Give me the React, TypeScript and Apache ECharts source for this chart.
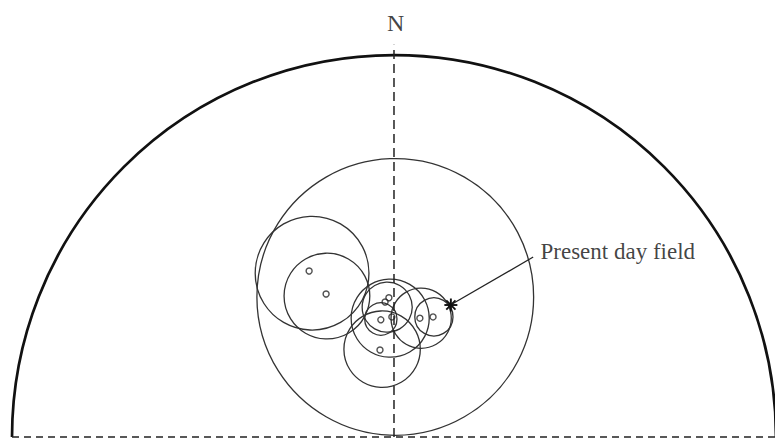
import React, { useEffect, useRef } from "react";
import * as echarts from "echarts";

// Upper-hemisphere equal-area net; coordinates are degrees from the centre,
// so the primitive circle has a radius of 90.
const primitiveRadius = 90;

// Cones of confidence: [east, north, radius]
const coneCentres: [number, number][] = [
  [0.3, 33.0],
  [-19.3, 38.6],
  [-15.8, 33.2],
  [-0.9, 28.0],
  [-1.6, 30.6],
  [-3.1, 27.8],
  [-2.8, 20.7],
  [6.4, 28.0],
  [9.4, 28.3],
];
const coneRadii: number[] = [32.6, 13.4, 10.1, 9.2, 5.9, 3.8, 9.0, 7.1, 4.5];

// Site mean directions: [east, north]
const meanDirections: [number, number][] = [
  [-20.0, 39.1],
  [-16.0, 33.7],
  [-2.1, 31.8],
  [-1.2, 32.8],
  [-3.1, 27.6],
  [-0.5, 28.3],
  [6.1, 28.0],
  [9.2, 28.3],
  [-3.3, 20.5],
];

const presentDayField: [number, number] = [13.4, 31.1];
const fieldLabelAnchor: [number, number] = [32.8, 42.4];
const fieldLabelText = "Present day field";
const northLabel = "N";
const northTickTop = 92.4;

const SERIF = "'Liberation Serif', 'DejaVu Serif', serif";

export default function App() {
  const ref = useRef<HTMLDivElement>(null);

  useEffect(() => {
    if (!ref.current) return;
    const chart = echarts.init(ref.current, undefined, { renderer: "svg" });

    const cones = coneCentres.map((c, i) => [c[0], c[1], coneRadii[i]]);

    chart.setOption({
      animation: false,
      backgroundColor: "#ffffff",
      grid: { left: 0, right: 0, top: 0, bottom: 0, containLabel: false },
      xAxis: {
        type: "value",
        min: -92.83,
        max: 89.77,
        show: false,
      },
      yAxis: {
        type: "value",
        min: -0.94,
        max: 102.96,
        show: false,
      },
      series: [
        {
          // primitive circle (upper half)
          type: "custom",
          clip: false,
          silent: true,
          data: [[0, 0, primitiveRadius]],
          renderItem: (params: any, api: any) => {
            const c = api.coord([api.value(0), api.value(1)]);
            const r = api.size([api.value(2), 0])[0];
            return {
              type: "arc",
              shape: {
                cx: c[0],
                cy: c[1],
                r,
                startAngle: Math.PI,
                endAngle: 2 * Math.PI,
                clockwise: true,
              },
              style: { fill: "none", stroke: "#111111", lineWidth: 2.7 },
            };
          },
        },
        {
          // horizontal diameter
          type: "line",
          silent: true,
          symbol: "none",
          data: [
            [-primitiveRadius, 0],
            [89.77, 0],
          ],
          lineStyle: { color: "#222222", width: 1.7, type: [7, 5] },
        },
        {
          // north-south diameter
          type: "line",
          silent: true,
          symbol: "none",
          data: [
            [0, 0],
            [0, northTickTop],
          ],
          lineStyle: { color: "#222222", width: 1.5, type: [9, 5] },
        },
        {
          type: "custom",
          clip: false,
          silent: true,
          data: cones,
          renderItem: (params: any, api: any) => {
            const c = api.coord([api.value(0), api.value(1)]);
            const r = api.size([api.value(2), 0])[0];
            return {
              type: "circle",
              shape: { cx: c[0], cy: c[1], r },
              style: { fill: "none", stroke: "#333333", lineWidth: 1.3 },
            };
          },
        },
        {
          type: "scatter",
          silent: true,
          data: meanDirections,
          symbol: "circle",
          symbolSize: 6,
          itemStyle: {
            color: "rgba(255,255,255,0)",
            borderColor: "#222222",
            borderWidth: 1.4,
          },
        },
        {
          // pointer to the present day field
          type: "line",
          silent: true,
          symbol: "none",
          data: [
            [presentDayField[0] + 0.4, presentDayField[1] + 0.3],
            fieldLabelAnchor,
          ],
          lineStyle: { color: "#222222", width: 1.3 },
        },
        {
          type: "custom",
          clip: false,
          silent: true,
          data: [presentDayField],
          renderItem: (params: any, api: any) => {
            const c = api.coord([api.value(0), api.value(1)]);
            const a = 6.5;
            const d = a * Math.SQRT1_2;
            const st = { stroke: "#111111", lineWidth: 1.9 };
            return {
              type: "group",
              children: [
                { type: "line", shape: { x1: c[0], y1: c[1] - a, x2: c[0], y2: c[1] + a }, style: st },
                { type: "line", shape: { x1: c[0] - a, y1: c[1], x2: c[0] + a, y2: c[1] }, style: st },
                { type: "line", shape: { x1: c[0] - d, y1: c[1] - d, x2: c[0] + d, y2: c[1] + d }, style: st },
                { type: "line", shape: { x1: c[0] - d, y1: c[1] + d, x2: c[0] + d, y2: c[1] - d }, style: st },
              ],
            };
          },
        },
        {
          type: "scatter",
          silent: true,
          symbol: "circle",
          symbolSize: 1,
          itemStyle: { color: "rgba(0,0,0,0)" },
          data: [
            {
              value: [fieldLabelAnchor[0] + 1.6, fieldLabelAnchor[1] + 1.2],
              label: {
                show: true,
                position: "right",
                distance: 0,
                formatter: fieldLabelText,
                fontFamily: SERIF,
                fontSize: 23,
                color: "#111111",
              },
            },
            {
              value: [0.4, 97.5],
              label: {
                show: true,
                position: "inside",
                formatter: northLabel,
                fontFamily: SERIF,
                fontSize: 24,
                color: "#111111",
              },
            },
          ],
        },
      ],
    });

    return () => chart.dispose();
  }, []);

  return (
    <div
      ref={ref}
      style={{ position: "fixed", left: 0, top: 0, width: 775, height: 441, background: "#fff" }}
    />
  );
}
